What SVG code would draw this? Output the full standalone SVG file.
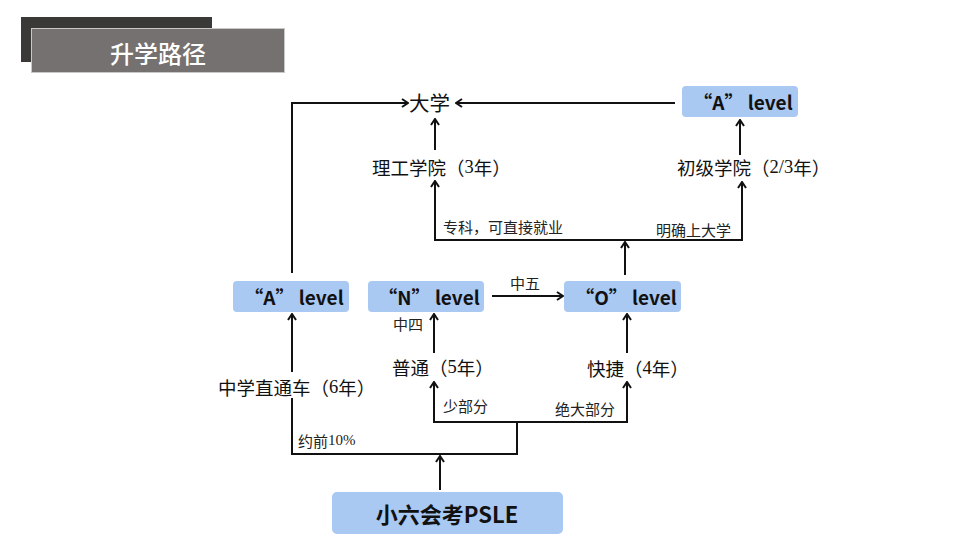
<svg xmlns="http://www.w3.org/2000/svg" width="960" height="540" viewBox="0 0 960 540">
<style>
.box{fill:#a9c8f2;}
.lvl{font-family:"Noto Sans CJK SC","Liberation Sans",sans-serif;font-weight:bold;font-size:19px;fill:#111;text-anchor:middle;dominant-baseline:central;}
.lbl{font-family:"Noto Sans CJK SC","Liberation Sans",sans-serif;font-size:18.5px;fill:#111;dominant-baseline:central;}
.sm{font-family:"Noto Sans CJK SC","Liberation Sans",sans-serif;font-size:15px;fill:#222;dominant-baseline:central;}
.num{font-family:"Liberation Serif",serif;}
.ln{fill:none;stroke:#111;stroke-width:2;}
</style>
<defs>
<marker id="ah" viewBox="0 0 10 10" refX="9" refY="5" markerWidth="10" markerHeight="10" markerUnits="userSpaceOnUse" orient="auto-start-reverse">
<path d="M3,1 L9,5 L3,9" fill="none" stroke="#111" stroke-width="2"/>
</marker>
</defs>
<rect width="960" height="540" fill="#fff"/>
<g id="title">
<rect x="21" y="17" width="191" height="45" fill="#3b3838"/>
<rect x="31.5" y="28.5" width="253" height="44" fill="#767171" stroke="#c8c8c8" stroke-width="1"/>
<text x="158" y="52" font-family="Noto Sans CJK SC,sans-serif" font-size="24" font-weight="500" fill="#fff" text-anchor="middle" dominant-baseline="central">升学路径</text>
</g>
<g id="connectors">
<path class="ln" d="M292,273 V103 H408" marker-end="url(#ah)"/>
<path class="ln" d="M675,103 H456" marker-end="url(#ah)"/>
<path class="ln" d="M435,150 V119" marker-end="url(#ah)"/>
<path class="ln" d="M740,155 V120" marker-end="url(#ah)"/>
<path class="ln" d="M435,181 V240 H742 V182" marker-start="url(#ah)" marker-end="url(#ah)"/>
<path class="ln" d="M625,275 V242" marker-end="url(#ah)"/>
<path class="ln" d="M492,296 H563" marker-end="url(#ah)"/>
<path class="ln" d="M292,372 V314" marker-end="url(#ah)"/>
<path class="ln" d="M434,353 V314" marker-end="url(#ah)"/>
<path class="ln" d="M627,353 V314" marker-end="url(#ah)"/>
<path class="ln" d="M434,382 V422 H627 V382" marker-start="url(#ah)" marker-end="url(#ah)"/>
<path class="ln" d="M517,422 V454 H292 V398"/>
<path class="ln" d="M440,490 V456" marker-end="url(#ah)"/>
</g>
<g id="university"><text class="lbl" x="409" y="102" style="font-size:20.5px">大学</text></g>
<g id="a-level-top"><rect class="box" x="682" y="86" width="116" height="31" rx="4"/><text class="lvl" x="743" y="101.5">“A” level</text></g>
<g id="poly"><text class="lbl" x="372" y="167">理工学院（<tspan class="num">3</tspan>年）</text></g>
<g id="jc"><text class="lbl" x="677" y="167">初级学院（<tspan class="num">2/3</tspan>年）</text></g>
<g id="a-level-left"><rect class="box" x="233" y="281" width="116" height="31" rx="4"/><text class="lvl" x="294" y="296.5">“A” level</text></g>
<g id="n-level"><rect class="box" x="368" y="281" width="116" height="31" rx="4"/><text class="lvl" x="429" y="296.5">“N” level</text></g>
<g id="o-level"><rect class="box" x="564" y="281" width="117" height="31" rx="4"/><text class="lvl" x="626" y="296.5">“O” level</text></g>
<g id="normal"><text class="lbl" x="392" y="367">普通（<tspan class="num">5</tspan>年）</text></g>
<g id="express"><text class="lbl" x="587" y="368">快捷（<tspan class="num">4</tspan>年）</text></g>
<g id="ip"><text class="lbl" x="218" y="387">中学直通车（<tspan class="num">6</tspan>年）</text></g>
<g id="psle"><rect class="box" x="332" y="492" width="231" height="42" rx="5"/><text class="lvl" x="447" y="513" style="font-size:22px">小六会考PSLE</text></g>
<g id="edge-labels">
<text class="sm" x="443" y="226">专科，可直接就业</text>
<text class="sm" x="656" y="229">明确上大学</text>
<text class="sm" x="510" y="282">中五</text>
<text class="sm" x="393" y="323">中四</text>
<text class="sm" x="443" y="405">少部分</text>
<text class="sm" x="555" y="408">绝大部分</text>
<text class="sm" x="298" y="440">约前<tspan class="num">10%</tspan></text>
</g>
</svg>
